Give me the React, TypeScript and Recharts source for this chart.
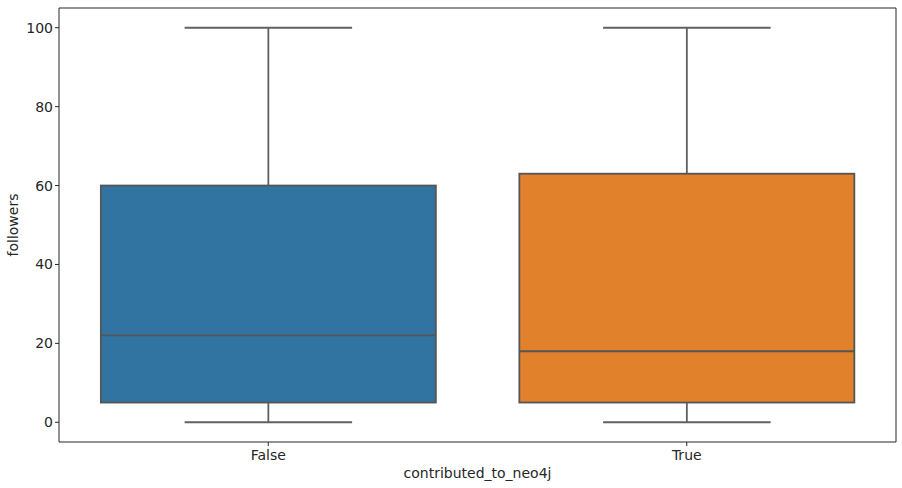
import React from 'react';
import { ComposedChart, Bar, XAxis, YAxis } from 'recharts';

const categories = ['False', 'True'];
const mins = [0, 0];
const q1s = [5, 5];
const medians = [22, 18];
const q3s = [60, 63];
const maxs = [100, 100];
const yTicks = [0, 20, 40, 60, 80, 100];
const colors = ['#3274a1', '#e1812c'];

const data = categories.map((c, i) => ({
  cat: c,
  range: [mins[i], maxs[i]],
  min: mins[i],
  q1: q1s[i],
  median: medians[i],
  q3: q3s[i],
  max: maxs[i],
  color: colors[i],
}));

const LINE = '#606060';
const EDGE = '#555555';

const BoxShape = (props: any) => {
  const { x, y, width, height, payload } = props;
  const p = payload;
  const pix = (v: number) => y + (height * (p.max - v)) / (p.max - p.min);
  const cx = x + width / 2;
  const capHalf = width / 4;
  return (
    <g>
      <line x1={cx} x2={cx} y1={pix(p.max)} y2={pix(p.q3)} stroke={LINE} strokeWidth={1.8} />
      <line x1={cx} x2={cx} y1={pix(p.q1)} y2={pix(p.min)} stroke={LINE} strokeWidth={1.8} />
      <line x1={cx - capHalf} x2={cx + capHalf} y1={pix(p.max)} y2={pix(p.max)} stroke={LINE} strokeWidth={1.8} />
      <line x1={cx - capHalf} x2={cx + capHalf} y1={pix(p.min)} y2={pix(p.min)} stroke={LINE} strokeWidth={1.8} />
      <rect x={x} y={pix(p.q3)} width={width} height={pix(p.q1) - pix(p.q3)} fill={p.color} stroke={EDGE} strokeWidth={1.8} />
      <line x1={x} x2={x + width} y1={pix(p.median)} y2={pix(p.median)} stroke={EDGE} strokeWidth={1.8} />
    </g>
  );
};

export default function App() {
  const tickStyle = { fontSize: 14, fill: '#262626', fontFamily: 'DejaVu Sans' };
  return (
    <div style={{ position: 'absolute', left: 0, top: 0, background: '#fff' }}>
      <ComposedChart
        width={902}
        height={488}
        data={data}
        margin={{ top: 7, right: 5, left: 0, bottom: 16 }}
        barCategoryGap="10%"
      >
        <XAxis
          dataKey="cat"
          tick={tickStyle}
          dy={2}
          stroke="#262626"
          tickLine={{ stroke: '#262626' }}
          tickSize={4}
          height={30}
          label={{ value: 'contributed_to_neo4j', position: 'insideBottom', offset: -6, style: { fontSize: 14, fill: '#262626', fontFamily: 'DejaVu Sans' } }}
        />
        <XAxis xAxisId="top" orientation="top" dataKey="cat" tick={false} tickLine={false} height={1} stroke="#262626" />
        <YAxis
          domain={[-5, 105]}
          ticks={yTicks}
          type="number"
          allowDataOverflow
          width={59}
          tick={tickStyle}
          stroke="#262626"
          tickSize={4}
          label={{ value: 'followers', angle: -90, position: 'insideLeft', dx: 8, style: { fontSize: 14, fill: '#262626', fontFamily: 'DejaVu Sans', textAnchor: 'middle' } }}
        />
        <YAxis yAxisId="right" orientation="right" domain={[-5, 105]} tick={false} tickLine={false} width={1} stroke="#262626" />
        <Bar dataKey="range" shape={<BoxShape />} isAnimationActive={false} />
      </ComposedChart>
    </div>
  );
}
